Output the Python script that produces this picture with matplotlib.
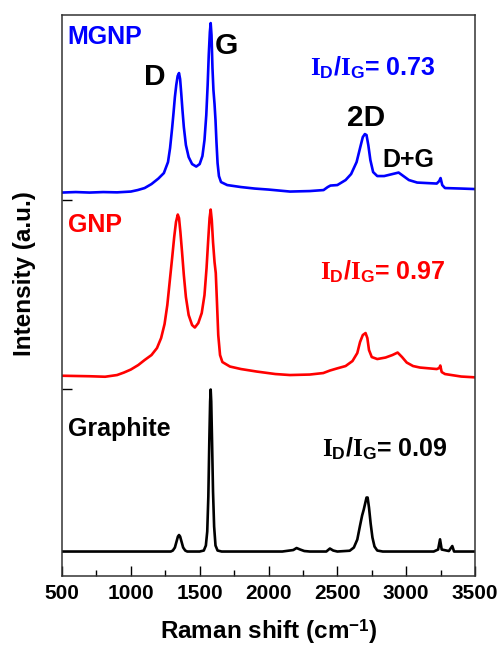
import matplotlib
matplotlib.use('Agg')
import matplotlib.pyplot as plt
from matplotlib.ticker import MultipleLocator

plt.rcParams['font.family'] = ['Liberation Sans', 'DejaVu Sans']
plt.rcParams['font.weight'] = 'bold'
plt.rcParams['mathtext.fontset'] = 'custom'
plt.rcParams['mathtext.rm'] = 'Liberation Serif:bold'
plt.rcParams['mathtext.sf'] = 'Liberation Sans:bold'
plt.rcParams['mathtext.it'] = 'Liberation Serif:bold:italic'
plt.rcParams['mathtext.bf'] = 'Liberation Serif:bold'

# Raman shift (cm-1) and intensity above each curve's own baseline (a.u.)
mgnp_x = [500, 600, 700, 800, 900, 1000, 1050, 1100, 1150, 1200, 1240, 1270,
          1285, 1300, 1310, 1320, 1330, 1340, 1350, 1358, 1366, 1375, 1385, 1400,
          1420, 1445, 1475, 1500, 1520, 1535, 1548, 1558, 1566, 1574, 1580, 1586,
          1593, 1600, 1608, 1615, 1622, 1630, 1640, 1655, 1700, 1800, 1900, 2000,
          2156, 2300, 2400, 2430, 2450, 2500, 2560, 2600, 2640, 2665, 2685, 2700,
          2712, 2725, 2740, 2760, 2790, 2840, 2900, 2945, 2980, 3020, 3080, 3150,
          3222, 3240, 3250, 3262, 3282, 3400, 3500]
mgnp_y = [0, 0.5, 0, 0.5, 0.2, 1, 2.5, 4.5, 8.5, 14, 19.5, 30.5,
          44.5, 64.5, 79.5, 95.5, 107.5, 116.5, 119.5, 113.5, 99.5, 82.5, 65.5, 47.5,
          35.5, 28.5, 26, 28.5, 36.5, 52.5, 77.5, 107.5, 137.5, 160.5, 169.5, 157.5,
          124.5, 102.5, 88.5, 72.5, 50.5, 29.5, 16.5, 10.5, 7.5, 5.5, 4, 3,
          1, 1.5, 2.5, 5.5, 7, 7.5, 12.5, 18.5, 30.5, 44.5, 55.5, 58.5,
          57.5, 47.5, 32.5, 20.5, 16.5, 16.5, 18.5, 20, 16.5, 12.5, 10, 9.5,
          9, 11.5, 14.5, 7.5, 4.5, 4, 3.5]

gnp_x = [500, 700, 813, 900, 950, 1000, 1054, 1100, 1150, 1190, 1220, 1245,
         1265, 1285, 1300, 1315, 1328, 1341, 1350, 1360, 1372, 1385, 1400, 1420,
         1445, 1465, 1490, 1515, 1535, 1550, 1562, 1572, 1580, 1588, 1597, 1608,
         1617, 1625, 1635, 1648, 1665, 1720, 1800, 1914, 2050, 2156, 2300, 2398,
         2446, 2495, 2560, 2610, 2645, 2665, 2685, 2705, 2718, 2730, 2750, 2790,
         2850, 2900, 2938, 2970, 3004, 3050, 3100, 3222, 3240, 3248, 3258, 3282,
         3400, 3500]
gnp_y = [0.3, -0.2, -0.7, 1, 3.5, 6.5, 11, 16, 21, 28, 38, 52,
         71, 98, 118, 139, 154, 161.5, 158, 144, 124, 101, 79, 61,
         51, 48.5, 53, 63, 81, 108, 136, 158, 166.5, 156, 134, 114,
         103, 76, 41, 21, 14, 9.5, 7, 4.5, 2, 1, 1.5, 3,
         5.5, 7.5, 10, 15, 23, 34, 41, 43, 38, 26, 19, 17,
         18.5, 21, 23.5, 19, 13.5, 10, 8.5, 7, 8, 10.5, 4, 2,
         -0.5, -1.3]

graphite_x = [500, 1000, 1290, 1305, 1320, 1332, 1342, 1350, 1358, 1368, 1380,
              1395, 1410, 1500, 1530, 1545, 1555, 1563, 1570, 1576, 1580, 1584,
              1590, 1597, 1605, 1615, 1630, 1660, 2100, 2180, 2204, 2230, 2260,
              2300, 2420, 2446, 2470, 2500, 2590, 2620, 2645, 2665, 2680, 2692,
              2702, 2712, 2720, 2730, 2742, 2755, 2770, 2790, 2830, 3200, 3232,
              3246, 3258, 3310, 3335, 3348, 3500]
graphite_y = [0, 0, 0, 1, 4, 10, 15, 16.5, 15, 10, 4,
              1, 0, 0, 1, 6, 20, 55, 110, 150, 162, 150,
              110, 60, 25, 6, 1, 0, 0, 1.5, 3.5, 2, 0.5,
              0, 0, 3, 1, 0, 0.8, 4, 12, 26, 36, 42,
              48, 54, 54, 44, 28, 14, 5, 1, 0, 0, 2,
              12.2, 2, 0.5, 5.5, 0, 0]

ratio_labels = ['0.73', '0.97', '0.09']

fig = plt.figure(figsize=(5, 6.47), dpi=100)
ax = fig.add_axes([0.124, 0.1097, 0.826, 0.867])

# vertical stacking of the three spectra
off_graphite, off_gnp, off_mgnp = 24.5, 200, 383.5

ax.plot(graphite_x, [v + off_graphite for v in graphite_y], color='black', lw=1.9)
ax.plot(gnp_x, [v + off_gnp for v in gnp_y], color='#ff0000', lw=1.9)
ax.plot(mgnp_x, [v + off_mgnp for v in mgnp_y], color='#0000ff', lw=1.9)

ax.set_xlim(500, 3500)
ax.set_ylim(0, 561)
ax.xaxis.set_major_locator(MultipleLocator(500))
ax.xaxis.set_minor_locator(MultipleLocator(250))
ax.set_yticks([187, 376])
ax.set_yticklabels([])
ax.tick_params(axis='both', which='major', direction='in', length=7, width=1,
               labelsize=15, pad=6)
ax.tick_params(axis='x', which='minor', direction='in', length=4, width=1)
for lab in ax.get_xticklabels():
    lab.set_fontweight('bold')
for sp in ax.spines.values():
    sp.set_linewidth(1.1)
    sp.set_color('#333333')

ax.set_xlabel(r'Raman shift (cm$^{\mathsf{-1}}$)', fontsize=17.5, fontweight='bold')
ax.set_ylabel('Intensity (a.u.)', fontsize=17.5, fontweight='bold')
ax.xaxis.set_label_coords(0.5, -0.074)
ax.yaxis.set_label_coords(-0.062, 0.54)

ratio = r'$\mathrm{I}_{\mathsf{D}}\mathsf{/}\mathrm{I}_{\mathsf{G}}$= '

ax.text(536, 539, 'MGNP', color='#0000ff', fontsize=18, fontweight='bold', va='center')
ax.text(544, 351, 'GNP', color='#ff0000', fontsize=18, fontweight='bold', va='center')
ax.text(544, 147, 'Graphite', color='black', fontsize=18, fontweight='bold', va='center')

ax.text(1175, 499, 'D', fontsize=21.5, fontweight='bold', ha='center', va='center')
ax.text(1691, 530, 'G', fontsize=21.5, fontweight='bold', ha='center', va='center')
ax.text(2708, 458, '2D', fontsize=21.5, fontweight='bold', ha='center', va='center')
ax.text(3013, 416, 'D+G', fontsize=18, fontweight='bold', ha='center', va='center')

ax.text(2301, 508, ratio + ratio_labels[0], color='#0000ff', fontsize=18, fontweight='bold', va='center')
ax.text(2374, 304, ratio + ratio_labels[1], color='#ff0000', fontsize=18, fontweight='bold', va='center')
ax.text(2389, 127, ratio + ratio_labels[2], color='black', fontsize=18, fontweight='bold', va='center')

fig.savefig('out.png', dpi=100)
